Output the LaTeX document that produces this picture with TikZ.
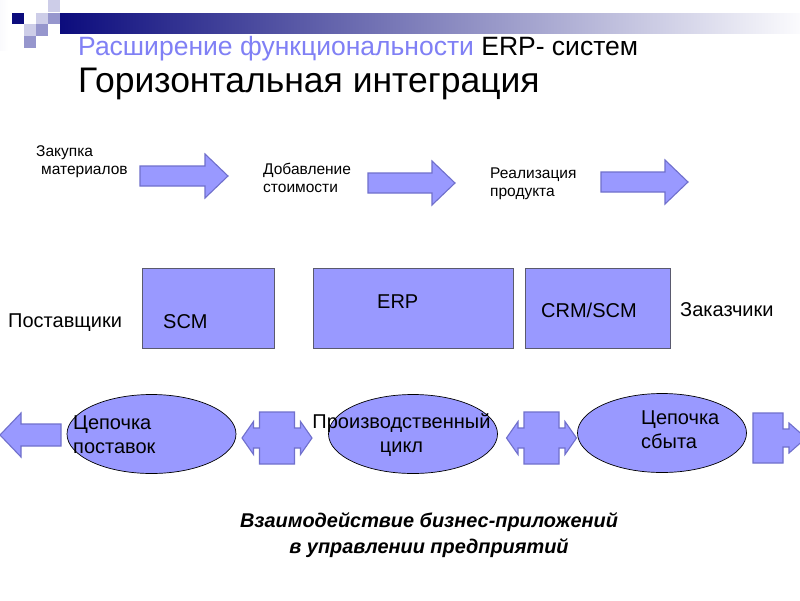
\documentclass[tikz,border=0pt]{standalone}
\usepackage{fontspec}
\setmainfont{Liberation Sans}
\usetikzlibrary{shapes.geometric}
\definecolor{lav}{RGB}{153,153,255}
\definecolor{lavline}{RGB}{112,112,204}
\definecolor{boxline}{RGB}{90,90,110}
\definecolor{titleblue}{RGB}{128,128,245}
\definecolor{navy}{RGB}{12,12,125}
\definecolor{sqlight}{RGB}{205,205,232}
\definecolor{sqmid}{RGB}{150,150,205}
\tikzset{
  shapefill/.style={fill=lav, draw=lavline, line width=1.1pt, line join=miter},
  boxnode/.style={rectangle, fill=lav, draw=boxline, line width=0.8pt, anchor=north west, inner sep=0pt},
  ell/.style={ellipse, fill=lav, draw=black, line width=0.7pt, inner sep=0pt, minimum width=169pt, minimum height=79pt},
  small/.style={font=\fontsize{15.5}{18}\selectfont, align=left, inner sep=0pt},
  mid/.style={font=\fontsize{20}{24}\selectfont, inner sep=0pt},
}
\newcommand{\rarr}[3]{% x0, xtip, yc
  \filldraw[shapefill] (#1,#3-10) -- (#2-23,#3-10) -- (#2-23,#3-22) -- (#2,#3) -- (#2-23,#3+22) -- (#2-23,#3+10) -- (#1,#3+10) -- cycle;}
\newcommand{\dblcall}[2]{% cx, cy
  \filldraw[shapefill] (#1-17.5,#2-26) -- (#1+17.5,#2-26) -- (#1+17.5,#2-10) -- (#1+23.5,#2-10) -- (#1+23.5,#2-16.5) -- (#1+35,#2) -- (#1+23.5,#2+16.5) -- (#1+23.5,#2+10) -- (#1+17.5,#2+10) -- (#1+17.5,#2+26) -- (#1-17.5,#2+26) -- (#1-17.5,#2+10) -- (#1-23.5,#2+10) -- (#1-23.5,#2+16.5) -- (#1-35,#2) -- (#1-23.5,#2-16.5) -- (#1-23.5,#2-10) -- (#1-17.5,#2-10) -- cycle;}
\begin{document}
\begin{tikzpicture}[x=1pt,y=-1pt]
\useasboundingbox (0,0) rectangle (800,600);
\fill[white] (0,0) rectangle (800,600);
% decoration
\fill[left color=white!90!sqlight, right color=white] (0,0) rectangle (8,50);
\shade[left color=navy, right color=white!92!sqlight] (60,13) rectangle (800,33);
\fill[navy] (12,13) rectangle (24,24);
\fill[sqlight] (48,0) rectangle (60,12);
\fill[sqlight] (36,13) rectangle (48,24);
\fill[sqmid] (48,13) rectangle (60,24);
\fill[sqlight] (24,24) rectangle (36,36);
\fill[sqmid] (36,24) rectangle (48,36);
\fill[sqmid] (24,36) rectangle (36,48);
% title
\node[anchor=base west, inner sep=0pt, font=\fontsize{26.5}{30}\selectfont] (t1) at (78,55) {\textcolor{titleblue}{Расширение функциональности} ERP- систем};
\node[anchor=base west, inner sep=0pt, font=\fontsize{35.5}{40}\selectfont] (t2) at (78,92) {Горизонтальная интеграция};
% top arrows
\rarr{140}{228}{176}
\rarr{368}{455}{183}
\rarr{601}{688}{182}
\node[small, anchor=west] (l1) at (36,162) {Закупка\\\hspace*{5pt}материалов};
\node[small, anchor=west] (l2) at (263,178) {Добавление\\стоимости};
\node[small, anchor=west] (l3) at (490,184) {Реализация\\продукта};
% boxes
\node[boxnode, minimum width=132pt, minimum height=80pt] (scm) at (142,268) {};
\node[boxnode, minimum width=200pt, minimum height=80pt] (erp) at (313,268) {};
\node[boxnode, minimum width=145pt, minimum height=80pt] (crm) at (525,268) {};
\node[mid, anchor=west] at (163,322) {SCM};
\node[mid, anchor=west] at (377,302) {ERP};
\node[mid, anchor=west] at (541,310) {CRM/SCM};
\node[mid, anchor=west] (sup) at (8,323) {Поставщики};
\node[mid, anchor=west] (cus) at (680,310) {Заказчики};
% bottom row
\filldraw[shapefill] (0,435) -- (21,413) -- (21,424) -- (61,424) -- (61,446) -- (21,446) -- (21,457) -- cycle;
\node[ell] (e1) at (151.5,434) {};
\node[ell] (e2) at (413,434) {};
\node[ell] (e3) at (662,433) {};
\dblcall{277}{438}
\dblcall{541.5}{438}
\filldraw[shapefill] (753,413) -- (783,413) -- (783,429) -- (789,429) -- (789,423) -- (806,438) -- (789,453) -- (789,447) -- (783,447) -- (783,463) -- (753,463) -- cycle;
\node[mid, align=left, anchor=west] at (73,435) {Цепочка\\поставок};
\node[mid, align=center] at (401.5,435) {Производственный\\цикл};
\node[mid, align=left, anchor=west] at (641,429.5) {Цепочка\\сбыта};
% caption
\node[align=center, inner sep=0pt, font=\fontsize{19.9}{26}\selectfont\bfseries\itshape] (cap) at (429,535) {Взаимодействие бизнес-приложений\\в управлении предприятий};
\end{tikzpicture}
\end{document}
